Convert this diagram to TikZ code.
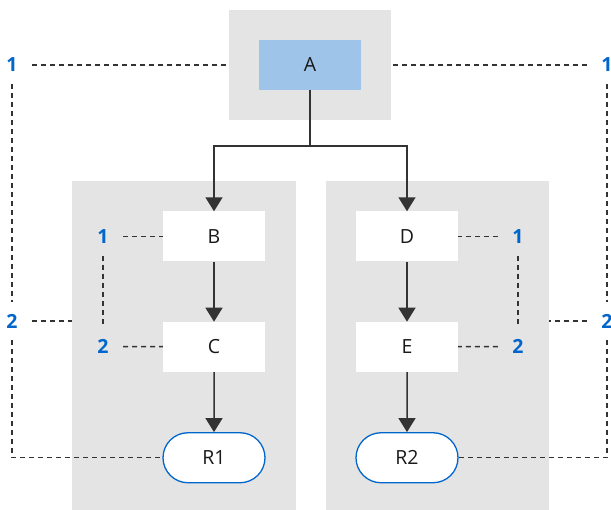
\documentclass[tikz,border=0pt]{standalone}
\usepackage{fontspec}
\setmainfont{Open Sans}
\usepackage{tikz}
\usetikzlibrary{arrows.meta, positioning, shapes.misc}
\definecolor{panelgray}{HTML}{E4E4E4}
\definecolor{stepblue}{HTML}{9FC4E9}
\definecolor{numblue}{HTML}{0066CC}
\definecolor{linegray}{HTML}{333333}

\begin{document}
\begin{tikzpicture}[x=1pt, y=1pt, font=\fontsize{19.5}{23}\selectfont, node distance=60pt,
  panel/.style={fill=panelgray, inner sep=0pt},
  task/.style={fill=white, text=black!90, minimum width=102pt, minimum height=50pt, inner sep=0pt},
  result/.style={rounded rectangle, draw=numblue, line width=1.3pt, fill=white, text=black!90,
                 minimum width=102pt, minimum height=50pt, inner sep=0pt},
  num/.style={text=numblue, font=\fontsize{19.5}{23}\selectfont\bfseries,
              minimum width=40pt, minimum height=38pt, inner sep=0pt},
  flow/.style={draw=linegray, line width=1.5pt, -{Triangle[length=14pt, width=17pt]}},
  link/.style={draw=linegray, line width=1.5pt, dash pattern=on 5pt off 4pt}]
        \useasboundingbox (0,0) rectangle (611,-510);
        % grey panels
        \node[panel, minimum width=162pt, minimum height=110pt] (top) at (310,-65) {};
        \node[panel, minimum width=224pt, minimum height=329pt] (left) at (184,-345.5) {};
        \node[panel, minimum width=223pt, minimum height=329pt] (right) at (437.5,-345.5) {};
        % steps
        \node[task, fill=stepblue] (A) at (310,-65) {A};
        \node[task] (B) at (214,-236.5) {B};
        \node[task, below=of B] (C) {C};
        \node[result, below=of C] (R1) {R1};
        \node[task] (D) at (407,-236.5) {D};
        \node[task, below=of D] (E) {E};
        \node[result, below=of E] (R2) {R2};
        % numbers
        \node[num] (n1l) at (12,-65) {1};
        \node[num] (n1r) at (607,-65) {1};
        \node[num] (n2l) at (12,-321) {2};
        \node[num] (n2r) at (607,-321) {2};
        \node[num] (b1) at (103,-236.5) {1};
        \node[num] (c2) at (103,-346.5) {2};
        \node[num] (d1) at (518,-236.5) {1};
        \node[num] (e2) at (518,-346.5) {2};
        % flow
        \coordinate (fork) at (310,-146);
        \draw[flow] (A.south) -- (fork) -| (B.north);
        \draw[flow] (fork) -| (D.north);
        \foreach \a/\b in {B/C, C/R1, D/E, E/R2}
          \draw[flow] (\a) -- (\b);
        % dashed links
        \draw[link] (n1l) -- (top);
        \draw[link] (n1r) -- (top);
        \draw[link] (n1l) -- (n2l);
        \draw[link] (n1r) -- (n2r);
        \draw[link] (n2l.east) -- (n2l.east -| left.west);
        \draw[link] (n2r.west) -- (n2r.west -| right.east);
        \draw[link] (n2l) |- (R1);
        \draw[link] (n2r) |- (R2);
        \foreach \a/\b in {b1/B, b1/c2, c2/C, d1/D, d1/e2, e2/E}
          \draw[link] (\a) -- (\b);
      \end{tikzpicture}
\end{document}
